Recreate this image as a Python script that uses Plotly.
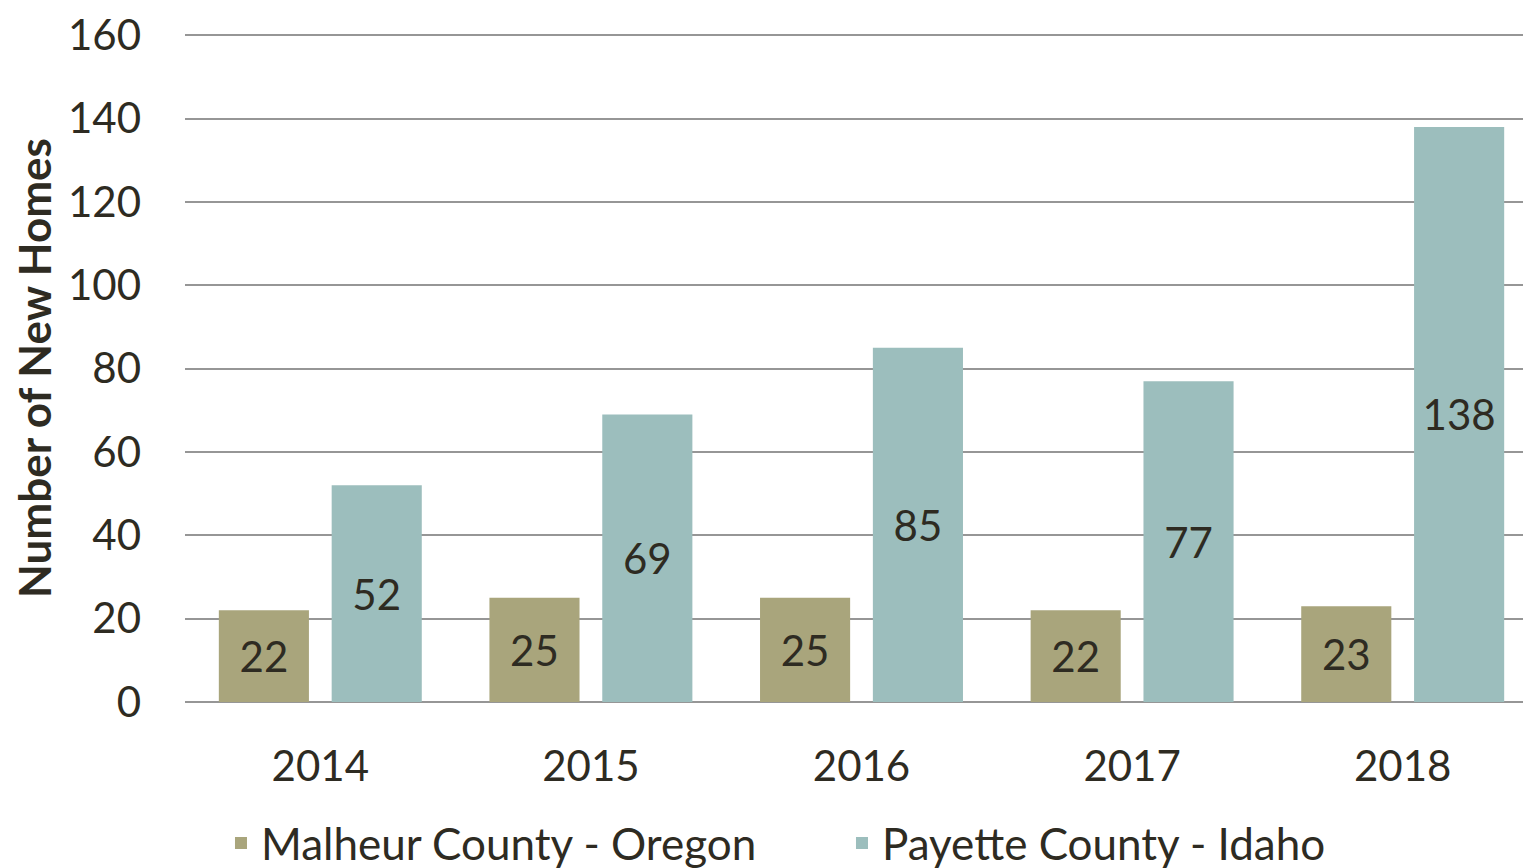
import plotly.graph_objects as go

years = ["2014", "2015", "2016", "2017", "2018"]
malheur = [22, 25, 25, 22, 23]
payette = [52, 69, 85, 77, 138]
series_names = ["Malheur County - Oregon", "Payette County - Idaho"]
y_ticks = [0, 20, 40, 60, 80, 100, 120, 140, 160]

FONT = "Lato"
TXT = "#2E2B22"
C_MAL = "#A9A57C"
C_PAY = "#9CBEBD"
FS = 42

fig = go.Figure()
fig.add_trace(go.Bar(
    x=years, y=malheur, name=series_names[0],
    marker=dict(color=C_MAL, line=dict(width=0)),
    width=0.333, offset=-0.375,
    text=malheur, textposition="inside", insidetextanchor="middle",
    constraintext="none",
    textfont=dict(family=FONT, size=FS, color=TXT),
))
fig.add_trace(go.Bar(
    x=years, y=payette, name=series_names[1],
    marker=dict(color=C_PAY, line=dict(width=0)),
    width=0.333, offset=0.042,
    text=payette, textposition="inside", insidetextanchor="middle",
    constraintext="none",
    textfont=dict(family=FONT, size=FS, color=TXT),
))

fig.update_layout(
    width=1531, height=868,
    barmode="overlay",
    paper_bgcolor="white", plot_bgcolor="white",
    margin=dict(l=177, r=1, t=25.75, b=174, autoexpand=False),
    font=dict(family=FONT, color=TXT, size=FS),
    showlegend=True,
    legend=dict(
        orientation="h", x=0.0266, xanchor="left", y=-0.2115, yanchor="middle",
        font=dict(family=FONT, size=44, color=TXT),
        itemwidth=30, entrywidth=576, entrywidthmode="pixels",
        bgcolor="rgba(0,0,0,0)",
    ),
    xaxis=dict(
        type="category", range=[-0.5, 4.5],
        showgrid=False, showline=False, zeroline=False,
        ticks="", ticklabelstandoff=36,
        tickfont=dict(family=FONT, size=FS, color=TXT),
    ),
    yaxis=dict(
        range=[0, 160.3], tickvals=y_ticks,
        showgrid=True, gridcolor="#969696", gridwidth=2,
        zeroline=True, zerolinecolor="#969696", zerolinewidth=2,
        showline=False, ticks="", ticklabelstandoff=43,
        ticklabeloverflow="allow",
        tickfont=dict(family=FONT, size=FS, color=TXT),
        title=dict(text="<b>Number of New Homes</b>", standoff=18,
                   font=dict(family=FONT, size=44, color=TXT)),
    ),
)

fig.write_html("out.html")
